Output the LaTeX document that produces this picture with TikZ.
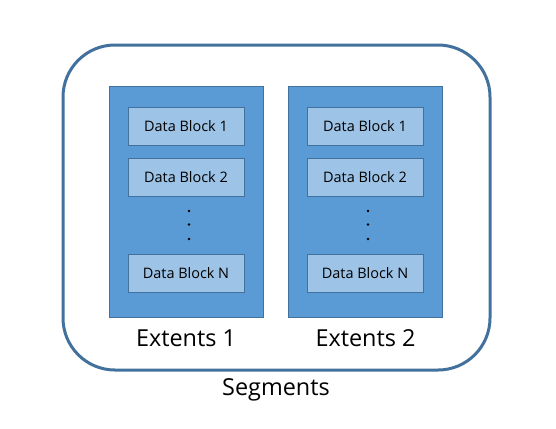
\documentclass[tikz,border=0pt]{standalone}
\usepackage{fontspec}
\setmainfont{Open Sans}
\usepackage{xcolor}
\usetikzlibrary{positioning}
\definecolor{segline}{RGB}{65,113,156}
\definecolor{extfill}{RGB}{91,155,213}
\definecolor{blkfill}{RGB}{157,195,230}

\begin{document}
\begin{tikzpicture}[x=1bp,y=-1bp,
    extbox/.style={draw=segline,fill=extfill,line width=0.8bp,minimum width=154bp,minimum height=231bp,inner sep=0pt},
    blkbox/.style={draw=segline,fill=blkfill,line width=0.8bp,minimum width=116bp,minimum height=38bp,inner sep=0pt,font=\fontsize{14.5}{17}\selectfont},
    dotmark/.style={circle,fill=black,inner sep=0pt,minimum size=2.8bp},
    biglabel/.style={font=\fontsize{23.5}{28}\selectfont}]
    \useasboundingbox (0,0) rectangle (556,428);

    % Segment frame
    \draw[segline,line width=3bp,rounded corners=52bp] (63,45) rectangle (490,370);

    % Extents
    \node[extbox] (ext1) at (186,202) {};
    \node[extbox] (ext2) at (365.5,202) {};

    % Data blocks, first extent
    \node[blkbox] (a1) at (186,126) {Data Block 1};
    \node[blkbox] (a2) at (186,177) {Data Block 2};
    \node[blkbox] (aN) at (186,273.5) {Data Block N};
    % Data blocks, second extent
    \node[blkbox] (b1) at (365,126) {Data Block 1};
    \node[blkbox] (b2) at (365,177) {Data Block 2};
    \node[blkbox] (bN) at (365,273.5) {Data Block N};

    % vertical dots
    \foreach \yy/\nm in {211/1,224.5/2,239/3} {
        \node[dotmark] (da\nm) at (189,\yy) {};
        \node[dotmark] (db\nm) at (368,\yy) {};
    }

    % labels
    \node[biglabel] (ext1lbl) at (186,338) {Extents 1};
    \node[biglabel] (ext2lbl) at (365.5,338) {Extents 2};
    \node[biglabel] (seglbl) at (276,390) {Segments};
\end{tikzpicture}
\end{document}
